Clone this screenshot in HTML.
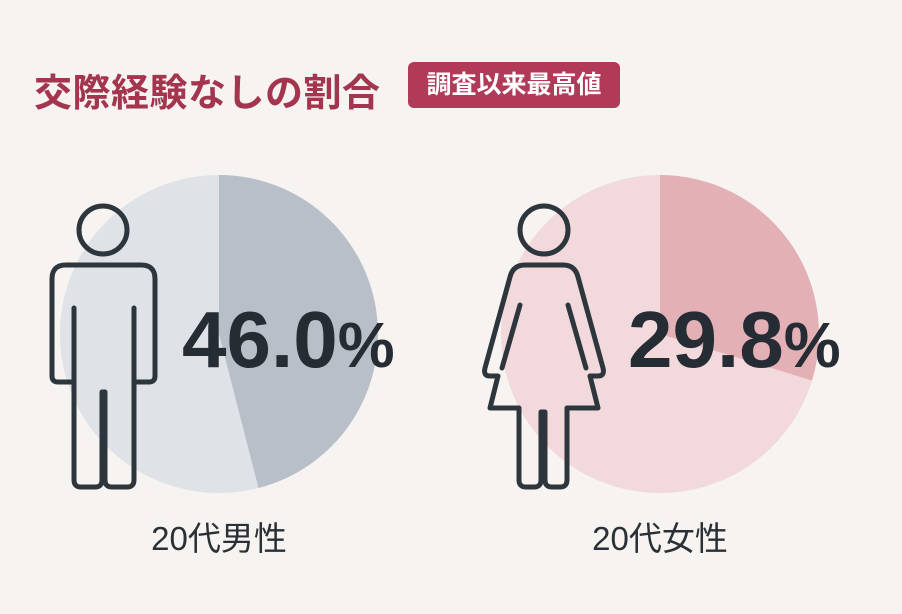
<!DOCTYPE html>
<html><head><meta charset="utf-8"><style>
html,body{margin:0;padding:0;}
body{width:902px;height:614px;background:#f6f3f1;position:relative;overflow:hidden;font-family:"Liberation Sans","Noto Sans CJK JP",sans-serif;}
.t{position:absolute;left:34px;top:62px;font-size:38px;font-weight:bold;color:#a3354f;letter-spacing:0.5px;white-space:nowrap;}
.b{position:absolute;left:408px;top:62px;width:212px;height:46px;background:#b03a57;border-radius:6px;color:#fff;font-size:25px;font-weight:bold;line-height:46px;text-align:center;}
.lab{position:absolute;font-size:33px;color:#2a3036;width:240px;text-align:center;top:512px;}
</style></head><body>
<div class="t">交際経験なしの割合</div>
<div class="b">調査以来最高値</div>
<svg width="902" height="614" style="position:absolute;left:0;top:0">
<circle cx="219" cy="334" r="159" fill="#dfe2e6"/>
<path d="M219 334 L219 175 A159 159 0 0 1 258.5 488 Z" fill="#b9bfc9"/>
<circle cx="660" cy="334" r="159" fill="#f2d9dc"/>
<path d="M660 334 L660 175 A159 159 0 0 1 812 380.5 Z" fill="#e3b0b6"/>
<g fill="none" stroke="#2e363d" stroke-width="5" stroke-linejoin="round" stroke-linecap="round">
<circle cx="103" cy="230" r="24"/>
<path d="M66 265 H141 Q155 265 155 279 V376 Q155 382 149 382 H134 V480 Q134 487 127 487 H112 Q105 487 105 480 V392 H102 V480 Q102 487 95 487 H81 Q74 487 74 480 V382 H58 Q52 382 52 376 V279 Q52 265 66 265 Z"/>
<path d="M74 308 V382 M134 308 V382"/>
<circle cx="544" cy="230" r="24"/>
<path d="M525 265 H563 Q575 265 578 277 L603 368 Q605 376 598 376 H590 L598 408 H567 V480 Q567 487 560 487 H552 Q545 487 545 480 V412 H541 V480 Q541 487 534 487 H526 Q519 487 519 480 V408 H490 L498 376 H490 Q483 376 485 368 L510 277 Q513 265 525 265 Z"/>
<path d="M520 305 L502 368 M568 305 L586 368"/>
</g>
<text x="182" y="367" font-family="Liberation Sans, sans-serif" font-weight="bold" font-size="80" fill="#252c33">46.0<tspan font-size="64">%</tspan></text>
<text x="628" y="367" font-family="Liberation Sans, sans-serif" font-weight="bold" font-size="80" fill="#252c33">29.8<tspan font-size="64">%</tspan></text>
</svg>
<div class="lab" style="left:99px">20代男性</div>
<div class="lab" style="left:540px">20代女性</div>
</body></html>
